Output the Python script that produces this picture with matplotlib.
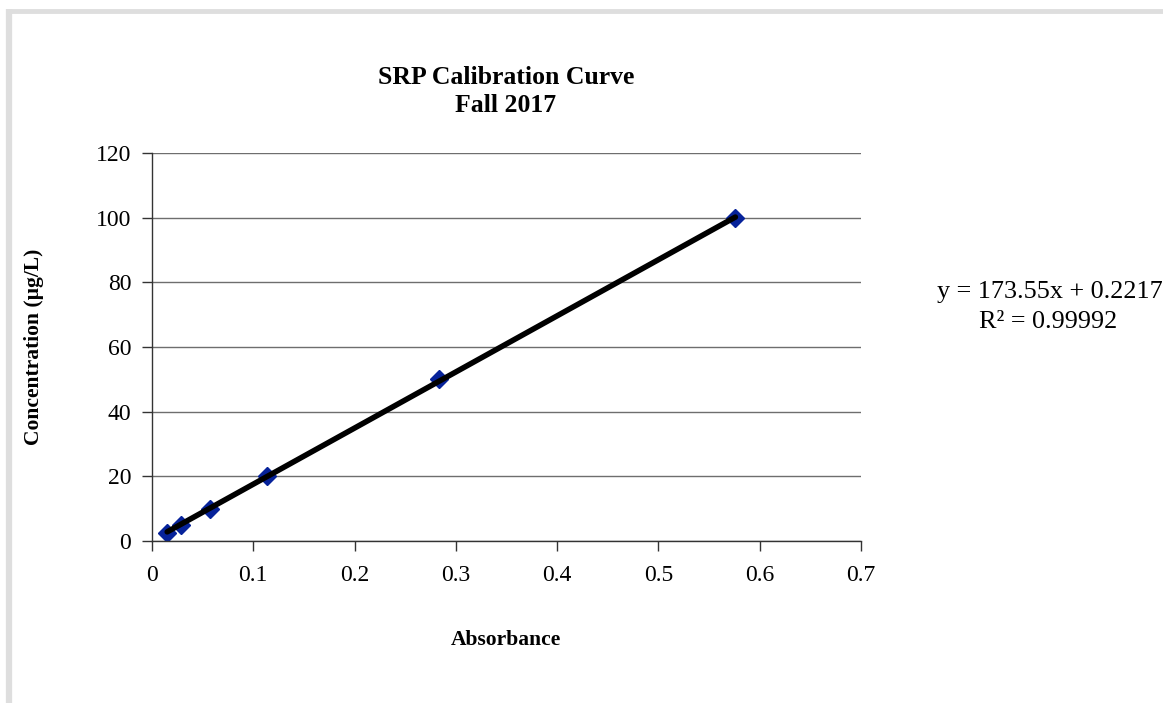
import matplotlib
matplotlib.use("Agg")
import matplotlib.pyplot as plt
from matplotlib.lines import Line2D

absorbance = [0.015, 0.029, 0.057, 0.114, 0.283, 0.576]
concentration = [2.5, 5, 10, 20, 50, 100]
slope = 173.55
intercept = 0.2217
r2_text = "R² = 0.99992"
x_ticks = [0, 0.1, 0.2, 0.3, 0.4, 0.5, 0.6, 0.7]
y_ticks = [0, 20, 40, 60, 80, 100, 120]

plt.rcParams['font.family'] = ['Liberation Serif', 'DejaVu Serif']

fig = plt.figure(figsize=(11.63, 7.03), dpi=100)
W, H = 1163, 703
ax = fig.add_axes([152 / W, 1 - 541 / H, (861 - 152) / W, (541 - 153) / H])

# border (top and left light gray)
fig.add_artist(Line2D([8.5 / W, 8.5 / W], [0, 1 - 9 / H], transform=fig.transFigure,
                      color='#DEDEDE', lw=4.5, solid_capstyle='butt'))
fig.add_artist(Line2D([6 / W, 1], [1 - 10.5 / H, 1 - 10.5 / H], transform=fig.transFigure,
                      color='#DEDEDE', lw=3.5, solid_capstyle='butt'))

ax.set_xlim(0, 0.7)
ax.set_ylim(0, 120)
ax.set_xticks(x_ticks)
ax.set_yticks(y_ticks)
ax.set_xticklabels([f"{t:g}" for t in x_ticks])
ax.set_yticklabels([f"{t:g}" for t in y_ticks])
ax.yaxis.grid(True, color='#6E6E6E', lw=1.0)
ax.set_axisbelow(True)
for s in ['top', 'right']:
    ax.spines[s].set_visible(False)
for s in ['left', 'bottom']:
    ax.spines[s].set_color('#333333')
    ax.spines[s].set_linewidth(1.0)
ax.tick_params(axis='both', direction='out', length=7, width=1.0, color='#333333',
               labelsize=17)
ax.tick_params(axis='y', pad=8)
ax.tick_params(axis='x', pad=10)

# trendline
xs = [absorbance[0], absorbance[-1]]
ax.plot(xs, [slope * x + intercept for x in xs], color='black', lw=4, zorder=3,
        solid_capstyle='round')
ax.plot(absorbance, concentration, linestyle='none', marker='D', markersize=9.5,
        color='#06229A', markeredgecolor='#06229A', zorder=2)

fig.text(506 / W, 1 - 77 / H, "SRP Calibration Curve", ha='center', va='center',
         fontsize=18.5, fontweight='bold')
fig.text(506 / W, 1 - 106 / H, "Fall 2017", ha='center', va='center',
         fontsize=18.5, fontweight='bold')
fig.text(506 / W, 1 - 640 / H, "Absorbance", ha='center', va='center',
         fontsize=15.5, fontweight='bold')
fig.text(34 / W, 1 - 347 / H, "Concentration (µg/L)", ha='center', va='center',
         rotation=90, fontsize=15.5, fontweight='bold')

fig.text(937 / W, 1 - 292 / H, f"y = {slope}x + {intercept}", ha='left', va='center',
         fontsize=18.8)
fig.text(1048 / W, 1 - 322 / H, r2_text, ha='center', va='center', fontsize=18.8)

fig.savefig("out.png", dpi=100)
